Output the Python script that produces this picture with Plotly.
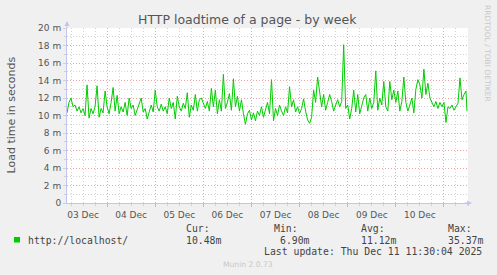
import plotly.graph_objects as go
import pandas as pd

# ---- data (hourly load time in milliseconds, "m" units) ----
start_time = "2025-12-03 04:00"
load_m = [
    # Dec 3 04:00 - 23:00
    10.3, 11.5, 12.0, 11.0, 11.2, 10.5, 11.0, 10.3, 10.8, 10.0,
    13.5, 9.7, 10.8, 10.2, 11.0, 13.4, 9.8, 10.8, 10.3, 12.8,
    # Dec 4
    11.0, 10.2, 11.5, 13.2, 10.5, 12.3, 10.2, 11.0, 10.4, 11.5, 10.0, 12.0,
    10.8, 11.2, 10.0, 10.6, 11.3, 12.0, 10.4, 10.8, 9.6, 10.5, 11.2, 10.4,
    # Dec 5
    12.9, 11.0, 10.5, 11.3, 10.5, 11.0, 10.2, 12.0, 10.8, 11.5, 9.6, 12.2,
    11.0, 10.5, 11.4, 10.8, 12.6, 9.8, 11.2, 10.6, 12.4, 10.5, 11.8, 12.0,
    # Dec 6
    11.5, 10.8, 11.6, 10.5, 13.1, 11.0, 12.9, 10.2, 11.8, 10.5, 14.7, 10.8,
    11.5, 12.5, 10.6, 14.2, 11.0, 12.2, 10.5, 11.8, 10.2, 9.0, 10.2, 10.6,
    # Dec 7
    9.5, 10.3, 9.4, 10.5, 10.0, 11.0, 9.8, 10.8, 11.5, 10.2, 14.1, 9.4,
    10.8, 10.0, 11.2, 10.5, 10.0, 11.0, 10.3, 13.3, 11.0, 11.8, 10.4, 11.0,
    # Dec 8
    10.2, 10.8, 11.9, 10.5, 9.5, 9.1, 9.8, 12.9, 11.5, 14.4, 12.5, 11.0,
    12.4, 10.6, 11.5, 12.4, 11.6, 10.5, 11.2, 11.8, 11.0, 11.6, 18.1, 10.8,
    # Dec 9
    11.2, 9.6, 10.8, 12.9, 10.4, 12.4, 10.2, 11.2, 12.0, 12.4, 10.5, 12.0,
    10.8, 11.5, 15.1, 10.6, 12.0, 11.2, 13.9, 11.0, 10.5, 13.9, 11.8, 12.9,
    # Dec 10
    11.5, 12.8, 10.5, 11.6, 14.4, 11.5, 10.5, 11.2, 12.0, 10.3, 13.0, 14.1,
    13.5, 12.0, 15.3, 12.4, 13.7, 12.0, 11.5, 11.0, 11.6, 10.8, 11.5, 11.0,
    # Dec 11 00:00 - 11:00
    11.5, 9.2, 11.0, 10.8, 11.2, 10.6, 11.0, 11.4, 14.3, 11.8, 12.4, 12.8,
]
last_time = "2025-12-11 11:30"
last_value = 10.48

day_labels = ["03 Dec", "04 Dec", "05 Dec", "06 Dec", "07 Dec", "08 Dec", "09 Dec", "10 Dec"]
y_tick_values = [0, 2, 4, 6, 8, 10, 12, 14, 16, 18, 20]
y_tick_labels = ["0", "2 m", "4 m", "6 m", "8 m", "10 m", "12 m", "14 m", "16 m", "18 m", "20 m"]

series_name = "http://localhost/"
stat_heads = ["Cur:", "Min:", "Avg:", "Max:"]
stat_values = ["10.48m", "6.90m", "11.12m", "35.37m"]
last_update = "Last update: Thu Dec 11 11:30:04 2025"

# ---- build ----
times = list(pd.date_range(start_time, periods=len(load_m), freq="h")) + [pd.Timestamp(last_time)]
values = load_m + [last_value]

x_range = ["2025-12-03 04:00", "2025-12-11 12:00"]
midnights = [str(d) for d in pd.date_range("2025-12-04", "2025-12-11", freq="D")]
noons = [str(d) for d in pd.date_range("2025-12-03 12:00", periods=len(day_labels), freq="D")]

L, R, T, B = 67, 29, 28, 72
W, H = 497, 275
PW, PH = W - L - R, H - T - B


def px(x):
    return (x - L) / PW


def py(y):
    return (H - B - y) / PH


MAJ = "#eaa6a6"
MIN = "#d2d2d2"
AXC = "#c4c4f0"
TXT = "#555555"
MONO = "DejaVu Sans Mono"
SANS = "DejaVu Sans"

fig = go.Figure()
fig.add_trace(go.Scatter(x=times, y=values, mode="lines",
                         line=dict(color="#00cc00", width=1), showlegend=False,
                         hoverinfo="skip"))
fig.add_trace(go.Scatter(x=[], y=[], xaxis="x2", showlegend=False))

fig.update_layout(
    width=W, height=H,
    margin=dict(l=L, r=R, t=T, b=B, pad=0),
    paper_bgcolor="#f0f0f0", plot_bgcolor="white",
    font=dict(family=SANS, size=9, color=TXT),
    xaxis=dict(
        type="date", range=x_range, tickmode="array", tickvals=midnights,
        showticklabels=False, showgrid=True, gridcolor=MAJ, griddash="1px,2px",
        gridwidth=1, ticks="outside", ticklen=3, tickcolor=MAJ,
        minor=dict(dtick=6 * 3600 * 1000, tick0="2025-12-03 00:00", showgrid=True,
                   gridcolor=MIN, griddash="1px,2px", ticks="outside", ticklen=2,
                   tickcolor=MIN),
        showline=True, linecolor=AXC, zeroline=False,
    ),
    xaxis2=dict(
        type="date", overlaying="x", anchor="y", side="bottom", range=x_range,
        tickmode="array", tickvals=noons, ticktext=day_labels, showgrid=False,
        ticks="outside", ticklen=3, tickcolor="rgba(0,0,0,0)",
        tickfont=dict(size=9, color=TXT), showline=False, zeroline=False,
    ),
    yaxis=dict(
        range=[0, 20], tickmode="array", tickvals=y_tick_values, ticktext=y_tick_labels,
        showgrid=True, gridcolor=MAJ, griddash="1px,2px", gridwidth=1,
        ticks="outside", ticklen=3, tickcolor=MIN,
        minor=dict(dtick=1, showgrid=True, gridcolor=MIN, griddash="1px,2px",
                   ticks="outside", ticklen=2, tickcolor=MIN),
        showline=True, linecolor=AXC, zeroline=False,
        tickfont=dict(size=9, color=TXT),
    ),
)

ann = []
ann.append(dict(x=px(247.5), y=py(20), text="HTTP loadtime of a page - by week",
                font=dict(size=12.5, color=TXT, family=SANS)))
ann.append(dict(x=px(11), y=0.5, text="Load time in seconds", textangle=-90,
                font=dict(size=11, color=TXT, family=SANS)))
ann.append(dict(x=px(488), y=py(53), text="RRDTOOL / TOBI OETIKER", textangle=90,
                font=dict(size=7.5, color="#c8c8c8", family=SANS)))
ann.append(dict(x=px(26), y=py(240), text=series_name, xanchor="left",
                font=dict(size=9.8, color="#444", family=MONO)))
head_x = [184, 272, 359, 446]
val_x = [184, 278, 359, 446]
for hx, vx, h, v in zip(head_x, val_x, stat_heads, stat_values):
    ann.append(dict(x=px(hx), y=py(228.5), text=h, xanchor="left",
                    font=dict(size=9.8, color="#444", family=MONO)))
    ann.append(dict(x=px(vx), y=py(240), text=v, xanchor="left",
                    font=dict(size=9.8, color="#444", family=MONO)))
ann.append(dict(x=px(483.5), y=py(251.5), text=last_update, xanchor="right",
                font=dict(size=9.8, color="#444", family=MONO)))
ann.append(dict(x=px(248), y=py(264), text="Munin 2.0.73",
                font=dict(size=7.6, color="#c8c8c8", family=SANS)))
for a in ann:
    a.setdefault("xanchor", "center")
    a.update(xref="paper", yref="paper", yanchor="middle", showarrow=False)

# axis arrows
ann.append(dict(xref="paper", yref="paper", x=0, y=py(21), ax=0, ay=9,
                axref="pixel", ayref="pixel", text="", showarrow=True,
                arrowhead=2, arrowsize=1, arrowwidth=1, arrowcolor=AXC))
ann.append(dict(xref="paper", yref="paper", x=px(472), y=0, ax=-9, ay=0,
                axref="pixel", ayref="pixel", text="", showarrow=True,
                arrowhead=2, arrowsize=1, arrowwidth=1, arrowcolor=AXC))
fig.update_layout(annotations=ann)

fig.add_shape(type="rect", xref="paper", yref="paper",
              x0=px(14), x1=px(20), y0=py(242.5), y1=py(237),
              fillcolor="#00cc00", line=dict(width=0))

fig.write_html("out.html")
